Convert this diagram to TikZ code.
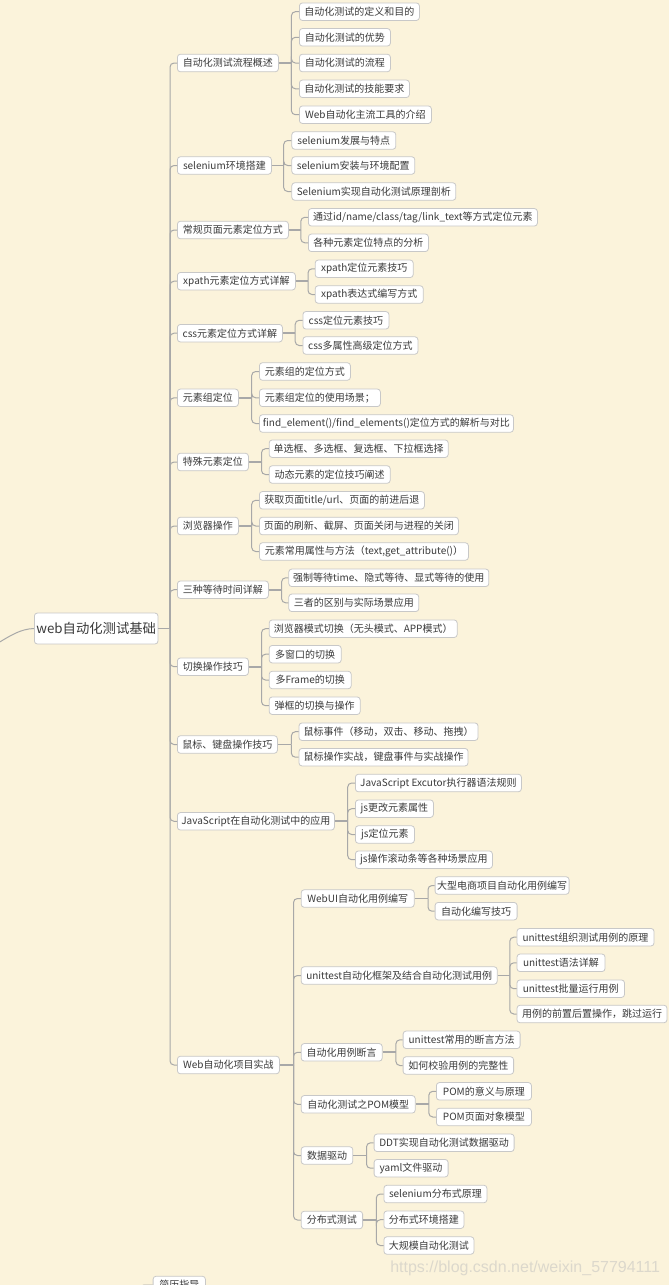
\documentclass[tikz,border=0pt]{standalone}
\usepackage{fontspec}
\setmainfont{Noto Sans CJK SC}
\newfontfamily\wmfont{Liberation Sans}
\definecolor{bg}{HTML}{FBF3DB}
\definecolor{boxc}{HTML}{C8C8C8}
\definecolor{txt}{HTML}{3A3A3A}
\definecolor{lnc}{HTML}{A8A8A8}
\definecolor{wmc}{HTML}{DCD8CC}
\tikzset{
  box/.style={draw=boxc, fill=white, rounded corners=2.2pt, text=txt,
    font=\fontsize{7.5pt}{9pt}\selectfont, inner xsep=1.5pt, inner ysep=0pt,
    minimum height=13.1pt, anchor=west, line width=0.6pt},
  rootbox/.style={box, font=\fontsize{10pt}{12pt}\selectfont, minimum height=23.2pt},
  bw/.style={minimum width=#1*0.75pt},
  conn/.style={draw=lnc, line width=0.75pt, rounded corners=3pt},
  stem/.style={draw=lnc, line width=1.4pt},
}
\newcommand\fan[3]{%
  \coordinate (T#1) at (#2,0);
  \draw[stem] (#1.east) -- (#1.east -| T#1);
  \foreach \ch in {#3} {\draw[conn] (#1.east -| T#1) |- (\ch.west);}
}
\begin{document}
\begin{tikzpicture}[x=0.75pt,y=-0.75pt]
\path[use as bounding box, fill=bg] (0,0) rectangle (669,1285);
\clip (0,0) rectangle (669,1285);

% root
\node[rootbox, bw=122] (root) at (34,628.5) {web自动化测试基础};
\coordinate (rin) at (-2,643);
\draw[conn] (rin) .. controls (10,636) and (20,629) .. (root.west);

% level 1
\node[box, bw=101] (n1) at (177,63) {自动化测试流程概述};
\node[box, bw=94] (n2) at (177,165.5) {selenium环境搭建};
\node[box, bw=111] (n3) at (177,230) {常规页面元素定位方式};
\node[box, bw=118] (n4) at (177,281.2) {xpath元素定位方式详解};
\node[box, bw=105] (n5) at (177,333.2) {css元素定位方式详解};
\node[box, bw=61] (n6) at (177,397.8) {元素组定位};
\node[box, bw=71] (n7) at (177,462) {特殊元素定位};
\node[box, bw=61] (n8) at (177,526) {浏览器操作};
\node[box, bw=91] (n9) at (177,589.7) {三种等待时间详解};
\node[box, bw=71] (n10) at (177,666.7) {切换操作技巧};
\node[box, bw=100] (n11) at (177,744.5) {鼠标、键盘操作技巧};
\node[box, bw=157] (n12) at (177,821.3) {JavaScript在自动化测试中的应用};
\node[box, bw=102] (n13) at (177,1065) {Web自动化项目实战};

% n1
\node[box, bw=120] (n1a) at (299,11.7) {自动化测试的定义和目的};
\node[box, bw=91] (n1b) at (299,37.3) {自动化测试的优势};
\node[box, bw=91] (n1c) at (299,63) {自动化测试的流程};
\node[box, bw=110] (n1d) at (299,88.8) {自动化测试的技能要求};
\node[box, bw=132] (n1e) at (299,114.7) {Web自动化主流工具的介绍};
% n2
\node[box, bw=104] (n2a) at (291.4,140.5) {selenium发展与特点};
\node[box, bw=123] (n2b) at (291.4,165.5) {selenium安装与环境配置};
\node[box, bw=164] (n2c) at (291.4,191.5) {Selenium实现自动化测试原理剖析};
% n3
\node[box, bw=229] (n3a) at (308,217.3) {通过id/name/class/tag/link\_text等方式定位元素};
\node[box, bw=120] (n3b) at (308,242.8) {各种元素定位特点的分析};
% n4
\node[box, bw=98] (n4a) at (314.8,268.8) {xpath定位元素技巧};
\node[box, bw=108] (n4b) at (314.8,294.5) {xpath表达式编写方式};
% n5
\node[box, bw=86] (n5a) at (302.5,320.3) {css定位元素技巧};
\node[box, bw=115] (n5b) at (302.5,345.5) {css多属性高级定位方式};
% n6
\node[box, bw=91] (n6a) at (259,371.5) {元素组的定位方式};
\node[box, bw=121] (n6b) at (259,397.8) {元素组定位的使用场景；};
\node[box, bw=254] (n6c) at (259,423.5) {find\_element()/find\_elements()定位方式的解析与对比};
% n7
\node[box, bw=179] (n7a) at (268.8,448.7) {单选框、多选框、复选框、下拉框选择};
\node[box, bw=121] (n7b) at (268.8,474.5) {动态元素的定位技巧阐述};
% n8
\node[box, bw=165] (n8a) at (259,500.3) {获取页面title/url、页面的前进后退};
\node[box, bw=199] (n8b) at (259,526) {页面的刷新、截屏、页面关闭与进程的关闭};
\node[box, bw=209] (n8c) at (259,551.5) {元素常用属性与方法（text,get\_attribute()）};
% n9
\node[box, bw=200] (n9a) at (288.4,577.8) {强制等待time、隐式等待、显式等待的使用};
\node[box, bw=130] (n9b) at (288.4,602.8) {三者的区别与实际场景应用};
% n10
\node[box, bw=188] (n10a) at (268.8,628.7) {浏览器模式切换（无头模式、APP模式）};
\node[box, bw=72] (n10b) at (268.8,654.2) {多窗口的切换};
\node[box, bw=82] (n10c) at (268.8,680) {多Frame的切换};
\node[box, bw=91] (n10d) at (268.8,705.7) {弹框的切换与操作};
% n11
\node[box, bw=179] (n11a) at (298.6,731.7) {鼠标事件（移动，双击、移动、拖拽）};
\node[box, bw=169] (n11b) at (298.6,757.2) {鼠标操作实战，键盘事件与实战操作};
% n12
\node[box, bw=166] (n12a) at (355,783) {JavaScript Excutor执行器语法规则};
\node[box, bw=78] (n12b) at (355,808.7) {js更改元素属性};
\node[box, bw=59] (n12c) at (355,834.5) {js定位元素};
\node[box, bw=137] (n12d) at (355,859.7) {js操作滚动条等各种场景应用};
% n13
\node[box, bw=113] (m1) at (300.8,898.5) {WebUI自动化用例编写};
\node[box, bw=196] (m2) at (300.8,975.5) {unittest自动化框架及结合自动化测试用例};
\node[box, bw=81] (m3) at (300.8,1052.3) {自动化用例断言};
\node[box, bw=114] (m4) at (300.8,1104.3) {自动化测试之POM模型};
\node[box, bw=51.6] (m5) at (300.8,1155.5) {数据驱动};
\node[box, bw=61.4] (m6) at (300.8,1220) {分布式测试};

\node[box, bw=128] (m1a) at (434.7,885.5) {大型电商项目自动化用例编写};
\node[box, bw=82] (m1b) at (434.7,911.2) {自动化编写技巧};
\node[box, bw=137] (m2a) at (516.6,937.2) {unittest组织测试用例的原理};
\node[box, bw=88] (m2b) at (516.6,962.8) {unittest语法详解};
\node[box, bw=107.5] (m2c) at (516.6,988.7) {unittest批量运行用例};
\node[box, bw=150] (m2d) at (516.6,1014) {用例的前置后置操作，跳过运行};
\node[box, bw=117] (m3a) at (402.7,1039.8) {unittest常用的断言方法};
\node[box, bw=110.5] (m3b) at (402.7,1065.5) {如何校验用例的完整性};
\node[box, bw=95] (m4a) at (436,1091.3) {POM的意义与原理};
\node[box, bw=95] (m4b) at (436,1117) {POM页面对象模型};
\node[box, bw=140] (m5a) at (373.7,1142.8) {DDT实现自动化测试数据驱动};
\node[box, bw=74] (m5b) at (373.7,1168.2) {yaml文件驱动};
\node[box, bw=103] (m6a) at (383.5,1194) {selenium分布式原理};
\node[box, bw=80] (m6b) at (383.5,1219.7) {分布式环境搭建};
\node[box, bw=90] (m6c) at (383.5,1245.5) {大规模自动化测试};

% partially visible node at the bottom
\node[box, bw=52.3] (bn) at (152.7,1285) {简历指导};
\coordinate (bin) at (140,1300);
\draw[conn] (bin) |- (bn.west);

% connectors
\fan{root}{170}{n1,n2,n3,n4,n5,n6,n7,n8,n9,n10,n11,n12,n13}
\fan{n1}{291.4}{n1a,n1b,n1c,n1d,n1e}
\fan{n2}{283.7}{n2a,n2b,n2c}
\fan{n3}{300.8}{n3a,n3b}
\fan{n4}{308}{n4a,n4b}
\fan{n5}{295.2}{n5a,n5b}
\fan{n6}{251.7}{n6a,n6b,n6c}
\fan{n7}{261.5}{n7a,n7b}
\fan{n8}{251.7}{n8a,n8b,n8c}
\fan{n9}{281.6}{n9a,n9b}
\fan{n10}{261.5}{n10a,n10b,n10c,n10d}
\fan{n11}{291.4}{n11a,n11b}
\fan{n12}{347.7}{n12a,n12b,n12c,n12d}
\fan{n13}{293.5}{m1,m2,m3,m4,m5,m6}
\fan{m1}{428}{m1a,m1b}
\fan{m2}{509.8}{m2a,m2b,m2c,m2d}
\fan{m3}{395.9}{m3a,m3b}
\fan{m4}{428.8}{m4a,m4b}
\fan{m5}{366.5}{m5a,m5b}
\fan{m6}{376.3}{m6a,m6b,m6c}

% watermark
\node[anchor=base west, inner sep=0pt, text=wmc, font=\wmfont\fontsize{12pt}{14pt}\selectfont] (wm) at (390,1272) {https://blog.csdn.net/weixin\_57794111};
\end{tikzpicture}
\end{document}
